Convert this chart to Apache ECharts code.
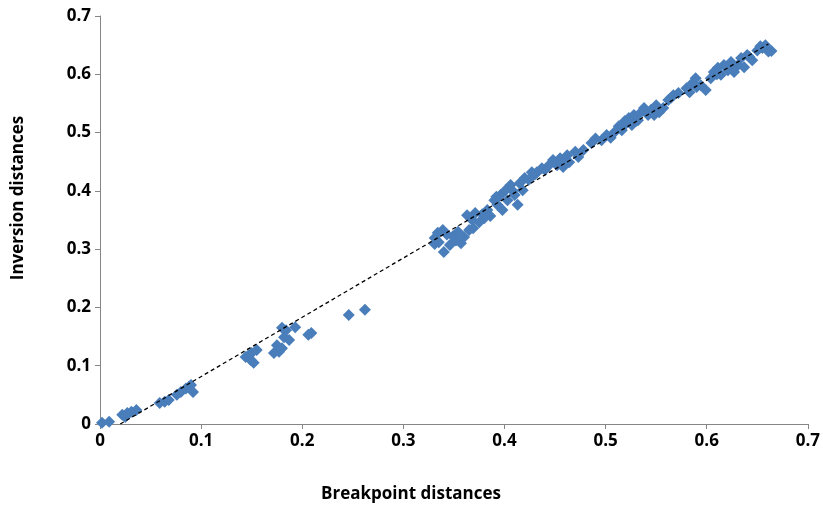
<!DOCTYPE html>
<html>
<head>
<meta charset="utf-8">
<script src="https://cdn.jsdelivr.net/npm/echarts@6/dist/echarts.min.js"></script>
<style>html,body{margin:0;padding:0;background:#fff}#c{width:823px;height:506px}</style>
</head>
<body>
<div id="c"></div>
<script>
const breakpointX = [0.002,0.009,0.022,0.025,0.027,0.031,0.036,0.059,0.064,0.068,0.076,0.08,0.085,0.088,0.09,0.092,
0.144,0.147,0.149,0.15,0.152,0.155,0.172,0.175,0.177,0.18,0.18,0.182,0.184,0.187,0.193,0.206,0.209,0.246,0.262,
0.331,0.331,0.334,0.339,0.34,0.346,0.349,0.354,0.357,0.36,0.363,0.365,0.369,0.371,0.375,0.38,0.383,0.386,0.39,0.393,0.396,0.398,0.401,0.403,0.406,0.41,0.413,0.415,0.418,0.42,0.424,0.427,0.432,0.437,0.44,0.444,0.448,0.452,0.455,0.458,0.462,0.464,0.47,0.473,0.478,0.486,0.496,0.501,0.505,0.509,0.513,0.516,0.519,0.523,0.526,0.528,0.532,0.535,0.538,0.542,0.545,0.55,0.553,0.557,0.562,0.567,0.572,0.58,0.583,0.586,0.589,0.594,0.599,0.604,0.607,0.611,0.614,0.617,0.621,0.624,0.627,0.631,0.634,0.637,0.64,0.645,0.65,0.653,0.658,0.661,
0.335,0.343,0.352,0.368,0.378,0.392,0.408,0.43,0.46,0.49,0.52,0.53,0.548,0.565,0.59,0.61,0.625,0.642,0.655,0.664];
const inversionY = [0.002,0.004,0.016,0.012,0.019,0.021,0.024,0.036,0.038,0.041,0.05,0.055,0.061,0.064,0.067,0.055,
0.115,0.118,0.11,0.122,0.105,0.127,0.122,0.135,0.124,0.13,0.165,0.149,0.161,0.144,0.166,0.153,0.156,0.187,0.196,
0.309,0.319,0.328,0.333,0.295,0.307,0.322,0.33,0.31,0.321,0.358,0.333,0.336,0.362,0.346,0.353,0.367,0.357,0.384,0.376,0.393,0.367,0.401,0.384,0.41,0.393,0.376,0.413,0.401,0.422,0.419,0.432,0.432,0.439,0.436,0.444,0.453,0.444,0.456,0.441,0.461,0.449,0.467,0.458,0.47,0.482,0.487,0.496,0.491,0.501,0.511,0.504,0.52,0.525,0.513,0.53,0.521,0.535,0.542,0.53,0.539,0.547,0.535,0.542,0.556,0.564,0.568,0.576,0.569,0.585,0.593,0.581,0.573,0.593,0.604,0.611,0.599,0.616,0.607,0.621,0.604,0.616,0.628,0.612,0.633,0.624,0.641,0.648,0.65,0.639,
0.312,0.325,0.315,0.35,0.36,0.39,0.4,0.428,0.45,0.49,0.515,0.52,0.53,0.56,0.578,0.6,0.612,0.63,0.645,0.64];
const trendX = [0.02, 0.661];
const trendY = [0.0, 0.652];
const tickValues = [0, 0.1, 0.2, 0.3, 0.4, 0.5, 0.6, 0.7];
const xTitle = 'Breakpoint distances';
const yTitle = 'Inversion distances';

const pts = breakpointX.map((x, i) => [x, inversionY[i]]);
const trend = trendX.map((x, i) => [x, trendY[i]]);
const fmt = v => { const t = tickValues.find(k => Math.abs(k - v) < 1e-6); return t === undefined ? '' : String(t); };
const labelStyle = { fontFamily: 'Open Sans', fontWeight: 'bold', fontSize: 17, color: '#000' };
const axisCommon = {
  type: 'value', min: 0, max: 0.7, interval: 0.1,
  axisLine: { show: true, lineStyle: { color: '#868686', width: 1 } },
  axisTick: { show: true, length: 5, lineStyle: { color: '#868686' } },
  splitLine: { show: false }
};
const titleFont = 'bold 17px "Open Sans"';
const chart = echarts.init(document.getElementById('c'));
chart.setOption({
  animation: false,
  backgroundColor: '#fff',
  grid: { left: 100, right: 12, top: 16, bottom: 82 },
  xAxis: Object.assign({}, axisCommon, {
    axisLabel: Object.assign({ formatter: fmt, margin: 9 }, labelStyle)
  }),
  yAxis: Object.assign({}, axisCommon, {
    axisLabel: Object.assign({ formatter: fmt, margin: 9 }, labelStyle)
  }),
  graphic: [
    { type: 'text', x: 411, y: 494, style: { text: xTitle, font: titleFont, fill: '#000', align: 'center', verticalAlign: 'middle' } },
    { type: 'text', x: 18, y: 198, rotation: Math.PI / 2, style: { text: yTitle, font: titleFont, fill: '#000', align: 'center', verticalAlign: 'middle' } }
  ],
  series: [
    { type: 'scatter', data: pts, symbol: 'diamond', symbolSize: 12,
      itemStyle: { color: '#4A7EBB', opacity: 1 } },
    { type: 'line', data: trend, symbol: 'none', z: 3,
      lineStyle: { color: '#000', width: 1.3, type: [4, 3] } }
  ]
});
</script>
</body>
</html>
